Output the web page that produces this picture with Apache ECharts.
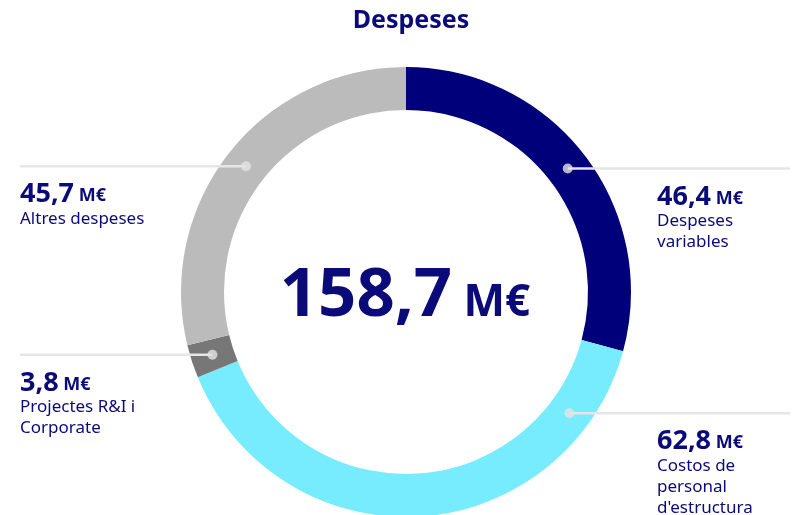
<!DOCTYPE html>
<html>
<head>
<meta charset="utf-8">
<script src="https://cdn.jsdelivr.net/npm/echarts@6/dist/echarts.min.js"></script>
<style>
  html, body { margin: 0; padding: 0; background: #fff; }
  #chart { width: 793px; height: 515px; }
</style>
</head>
<body>
<div id="chart"></div>
<script>
// dades del gràfic
var categories = ["Despeses variables", "Costos de personal d'estructura", "Projectes R&I i Corporate", "Altres despeses"];
var labelLines = [["Despeses", "variables"], ["Costos de", "personal", "d'estructura"], ["Projectes R&I i", "Corporate"], ["Altres despeses"]];
var values = [46.4, 62.8, 3.8, 45.7];
var valueTexts = ["46,4", "62,8", "3,8", "45,7"];
var totalText = "158,7";
var unit = "M€";

var colors = ["#00007a", "#76ecfe", "#777777", "#bbbbbb"];
var navy = "#0a0a78";
var font = "Noto Sans";

// geometria del donut
var cx = 406, cy = 292, rIn = 182, rOut = 225;
var rDot = (rIn + rOut) / 2;

var total = values.reduce(function (a, b) { return a + b; }, 0);

// punt d'ancoratge de cada etiqueta (mig del sector, excepte el cian que està desplaçat)
var anchors = [];
var acc = 0;
values.forEach(function (v) { anchors.push(acc + v / 2); acc += v; });
anchors[1] = 55.8;

function dotPos(i) {
  var t = anchors[i] / total * Math.PI * 2;
  return [cx + rDot * Math.sin(t), cy - rDot * Math.cos(t)];
}

var chart = echarts.init(document.getElementById("chart"));

var pieData = values.map(function (v, i) {
  return { name: categories[i], value: v, itemStyle: { color: colors[i] } };
});

chart.setOption({
  animation: false,
  title: {
    text: "Despeses",
    left: 406,
    textAlign: "center",
    top: 3,
    textStyle: { fontFamily: font, fontSize: 25, fontWeight: "bold", color: navy }
  },
  polar: { center: [cx, cy], radius: rOut },
  angleAxis: { type: "value", min: 0, max: total, startAngle: 90, clockwise: true, show: false },
  radiusAxis: { type: "value", min: 0, max: rOut, show: false },
  graphic: [{
    type: "text",
    x: 405,
    y: 290,
    style: {
      text: "{a|" + totalText + "}{b| " + unit + "}",
      align: "center",
      verticalAlign: "middle",
      rich: {
        a: { fontFamily: font, fontSize: 67, fontWeight: "bold", fill: navy, verticalAlign: "bottom", lineHeight: 80 },
        b: { fontFamily: font, fontSize: 44, fontWeight: "bold", fill: navy, verticalAlign: "bottom", lineHeight: 80, padding: [0, 0, 5, 0] }
      }
    },
    z: 10
  }],
  series: [
    {
      // anell de colors
      type: "pie",
      center: [cx, cy],
      radius: [rIn, rOut],
      startAngle: 90,
      clockwise: true,
      silent: true,
      z: 1,
      data: pieData,
      label: { show: false },
      labelLine: { show: false }
    },
    {
      // capa transparent per a etiquetes i línies, per sobre de l'anell
      type: "pie",
      center: [cx, cy],
      radius: [rIn, rOut],
      startAngle: 90,
      clockwise: true,
      silent: true,
      z: 3,
      data: values.map(function (v, i) {
        return { name: categories[i], value: v, itemStyle: { color: "rgba(0,0,0,0)" } };
      }),
      label: {
        show: true,
        formatter: function (p) {
          var i = p.dataIndex;
          var s = "{v|" + valueTexts[i] + "}{u| " + unit + "}";
          labelLines[i].forEach(function (l) { s += "\n{n|" + l + "}"; });
          return s;
        },
        rich: {
          v: { fontFamily: font, fontSize: 27, fontWeight: "bold", color: navy, lineHeight: 32, verticalAlign: "bottom" },
          u: { fontFamily: font, fontSize: 18, fontWeight: "bold", color: navy, lineHeight: 32, verticalAlign: "bottom", padding: [0, 0, 3, 0] },
          n: { fontFamily: font, fontSize: 17, color: navy, lineHeight: 21 }
        }
      },
      labelLine: {
        show: true,
        lineStyle: { color: "#e6e6e6", width: 2.5 }
      },
      labelLayout: function (params) {
        var i = params.dataIndex;
        var d = dotPos(i);
        var left = d[0] < cx;
        return {
          x: left ? 20 : 657,
          y: d[1] + 10,
          align: "left",
          verticalAlign: "top",
          labelLinePoints: [[d[0], d[1]], [d[0], d[1]], [left ? 20 : 790, d[1]]]
        };
      }
    },
    {
      type: "scatter",
      coordinateSystem: "polar",
      silent: true,
      symbol: "circle",
      symbolSize: 10,
      itemStyle: { color: "#e3e3e3" },
      z: 5,
      data: anchors.map(function (a) { return [rDot, a]; })
    }
  ]
});
</script>
</body>
</html>
